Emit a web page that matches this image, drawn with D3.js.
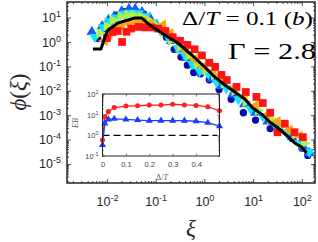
<!DOCTYPE html>
<html><head><meta charset="utf-8">
<script src="https://cdn.jsdelivr.net/npm/d3@7"></script>
<style>body{margin:0;background:#fff}svg{display:block}</style>
</head><body>
<svg id="c" width="318" height="242"></svg>
<script>
// ---------- data ----------
const xTickValues = [0.01, 0.1, 1, 10, 100];
const yTickValues = [1e-5, 1e-4, 1e-3, 1e-2, 1e-1, 1, 10];
const insetYTicks = [0.1, 1, 10, 100];
const insetXTicks = [0, 0.1, 0.2, 0.3, 0.4];

const seriesCircles = [[0.00646,1.41],[0.00891,3.55],[0.0117,7.08],[0.0158,12.6],[0.0214,17.8],[0.0295,19.1],[0.0398,17.8],[0.0562,14.1],[0.0794,7.08],[0.112,3.55],[0.166,1.58],[0.240,0.501],[0.331,0.240],[0.447,0.112],[0.603,0.0562],[0.832,0.0501],[1.26,0.0282],[2.0,0.0112],[3.55,0.00447],[6.31,0.00126],[11.2,6.31e-4],[22.4,2.82e-4],[35.5,3.55e-4],[63.1,1.12e-4],[100,4.47e-5],[132,2.24e-5]];
const seriesUp = [[0.00490,2.57],[0.00794,4.47],[0.0107,7.94],[0.0141,11.2],[0.0200,17.8],[0.0282,22.4],[0.0380,22.4],[0.0525,16.6],[0.0759,10],[0.105,5.01],[0.151,2.51],[0.209,1.12],[0.302,0.501],[0.417,0.224],[0.603,0.112],[0.891,0.0631],[1.41,0.0316],[2.24,0.0158],[3.80,0.00708],[6.61,0.00282],[11.2,0.00126],[20.0,5.62e-4],[35.5,2.51e-4],[63.1,1.26e-4],[112,4.47e-5],[141,2.82e-5]];
const seriesDown = [[0.00562,1.58],[0.00832,3.98],[0.0112,7.08],[0.0151,10],[0.0224,14.1],[0.0316,15.8],[0.0447,15.1],[0.0631,11.2],[0.0891,6.31],[0.126,3.16],[0.191,1.26],[0.282,0.562],[0.398,0.282],[0.562,0.126],[0.794,0.0631],[1.20,0.0501],[1.78,0.0224],[2.82,0.0126],[5.01,0.00447],[8.91,0.00178],[15.8,8.91e-4],[28.2,3.98e-4],[50.1,1.78e-4],[89.1,7.08e-5],[141,3.16e-5]];
const seriesRight = [[0.00708,2.24],[0.01,4.47],[0.0132,7.94],[0.0191,11.2],[0.0263,13.2],[0.0355,12.6],[0.0501,11.2],[0.0708,7.94],[0.1,5.01],[0.141,2.51],[0.209,1.26],[0.316,0.631],[0.479,0.282],[0.708,0.126],[1.05,0.0708],[1.58,0.0447],[2.51,0.02],[4.17,0.01],[7.08,0.00355],[12.6,0.00158],[22.4,7.08e-4],[39.8,3.98e-4],[70.8,1.58e-4],[112,7.08e-5]];
const seriesLeft = [[0.00891,1.12],[0.0112,2.0],[0.0141,3.55],[0.02,4.47],[0.0282,5.62],[0.0398,6.31],[0.0562,7.08],[0.0794,5.62],[0.141,5.01],[0.2,2.24],[0.282,1.0],[0.417,0.447],[0.631,0.2],[0.955,0.1],[1.51,0.0562],[2.40,0.0251],[3.98,0.0126],[6.61,0.00562],[11.2,0.00251],[19.1,0.001],[31.6,5.62e-4],[56.2,2.51e-4],[89.1,1.41e-4]];
const seriesSquares = [[0.01,1.45],[0.0132,2.57],[0.0166,2.82],[0.0204,1.0],[0.0251,2.63],[0.0316,3.55],[0.0447,4.17],[0.0603,3.98],[0.0832,3.98],[0.112,3.55],[0.158,2.82],[0.224,1.58],[0.316,1.12],[0.447,0.759],[0.631,0.501],[0.891,0.282],[1.26,0.141],[1.66,0.0955],[2.24,0.0447],[2.88,0.0275],[4.57,0.0145],[7.08,0.00891],[11.7,0.00562],[15.8,0.00316],[22.4,0.00126],[31.6,2.0e-4],[44.7,4.47e-4],[70.8,2.0e-4],[105,1.26e-4]];
const collapseLine = [[0.00516,0.516],[0.00753,0.516],[0.0091,1.60],[0.0105,3.10],[0.0168,6.0],[0.0374,9.6],[0.052,9.6],[0.076,4.97],[0.154,1.94],[0.285,0.91],[0.552,0.293],[1.02,0.0944],[1.63,0.0368],[2.62,0.0173],[4.2,0.00893],[6.73,0.00461],[9.8,0.00197],[15.7,0.00102],[21.9,5.26e-4],[30.4,3.28e-4],[40.4,2.05e-4],[56.2,1.16e-4],[71.1,7.26e-5],[99,4.98e-5],[125,2.82e-5]];

const insetDelta = [0, 0.01, 0.025, 0.05, 0.1, 0.15, 0.2, 0.25, 0.3, 0.35, 0.4, 0.45, 0.5];
const insetRed  = [0.6, 8, 14, 22, 26, 27, 29, 29, 32, 29.5, 28, 24, 15.5];
const insetBlue = [0.34, 3.8, 5.9, 6.3, 5.9, 5.5, 5.1, 5.1, 5.1, 5.1, 4.8, 4.1, 2.8];
const insetRef = 1;

// ---------- layout ----------
const svg = d3.select('#c');
const L = 67, R = 315, T = 2, B = 183;
const axisColor = '#262626';
const sans = 'Liberation Sans, Arial, sans-serif';
const serif = 'Liberation Serif, Times New Roman, serif';
const x = d3.scaleLog().domain([Math.pow(10,-2.82), Math.pow(10,2.27)]).range([L, R]);
const y = d3.scaleLog().domain([Math.pow(10,-5.78), Math.pow(10,1.64)]).range([B, T]);

function minorTicks(scale){
  const [a,b] = scale.domain(); const out = [];
  for (let e = Math.floor(Math.log10(a)); e <= Math.ceil(Math.log10(b)); e++)
    for (let m = 2; m < 10; m++){ const v = m*Math.pow(10,e); if (v > a && v < b) out.push(v); }
  return out;
}
function supLabels(sel, fsSup, rise){
  sel.each(function(d){
    const t = d3.select(this); const e = Math.round(Math.log10(d));
    t.text(null);
    t.append('tspan').text('10');
    t.append('tspan').attr('font-size', fsSup).attr('dy', -rise).text(String(e));
  });
}
function styleTicks(g, color, w){ g.selectAll('.domain').remove(); g.selectAll('line').attr('stroke', color).attr('stroke-width', w); }

svg.append('rect').attr('width',318).attr('height',242).attr('fill','#fff');

// scatter
const sym = (type, size) => d3.symbol().type(type).size(size)();
const groups = [
  {data: seriesCircles, path: sym(d3.symbolCircle, 42), rot: 0, fill: '#0a0aa8'},
  {data: seriesUp, path: sym(d3.symbolTriangle, 50), rot: 0, fill: '#1060ff'},
  {data: seriesDown, path: sym(d3.symbolTriangle, 50), rot: 180, fill: '#10e4ff'},
  {data: seriesRight, path: sym(d3.symbolTriangle, 50), rot: 90, fill: '#aaf250'},
  {data: seriesLeft, path: sym(d3.symbolTriangle, 50), rot: -90, fill: '#ffa40a'},
  {data: seriesSquares, path: sym(d3.symbolSquare, 60), rot: 0, fill: '#ff1414'}
];
const sg = svg.append('g');
groups.forEach(g => {
  sg.append('g').selectAll('path').data(g.data).join('path')
    .attr('d', g.path).attr('fill', g.fill)
    .attr('transform', d => `translate(${x(d[0])},${y(d[1])}) rotate(${g.rot})`);
});

// collapse line
svg.append('path').datum(collapseLine)
  .attr('d', d3.line().x(d => x(d[0])).y(d => y(d[1])))
  .attr('fill','none').attr('stroke','#000').attr('stroke-width',3).attr('stroke-linejoin','round');

// main axes
function axisSet(){
  const fs = 12.5;
  const gb = svg.append('g').attr('transform',`translate(0,${B})`);
  gb.call(d3.axisBottom(x).tickValues(xTickValues).tickSize(-4).tickPadding(14));
  gb.selectAll('.tick text').attr('font-family',sans).attr('font-size',fs).attr('fill',axisColor).call(supLabels, 9, 5);
  const gbm = svg.append('g').attr('transform',`translate(0,${B})`)
    .call(d3.axisBottom(x).tickValues(minorTicks(x)).tickSize(-2).tickFormat(''));
  const gt = svg.append('g').attr('transform',`translate(0,${T})`)
    .call(d3.axisTop(x).tickValues(xTickValues).tickSize(-4).tickFormat(''));
  const gtm = svg.append('g').attr('transform',`translate(0,${T})`)
    .call(d3.axisTop(x).tickValues(minorTicks(x)).tickSize(-2).tickFormat(''));
  const gl = svg.append('g').attr('transform',`translate(${L},0)`);
  gl.call(d3.axisLeft(y).tickValues(yTickValues).tickSize(-4).tickPadding(6));
  gl.selectAll('.tick text').attr('font-family',sans).attr('font-size',fs).attr('fill',axisColor).call(supLabels, 9, 5);
  const glm = svg.append('g').attr('transform',`translate(${L},0)`)
    .call(d3.axisLeft(y).tickValues(minorTicks(y)).tickSize(-2).tickFormat(''));
  const gr = svg.append('g').attr('transform',`translate(${R},0)`)
    .call(d3.axisRight(y).tickValues(yTickValues).tickSize(-4).tickFormat(''));
  const grm = svg.append('g').attr('transform',`translate(${R},0)`)
    .call(d3.axisRight(y).tickValues(minorTicks(y)).tickSize(-2).tickFormat(''));
  [gb,gbm,gt,gtm,gl,glm,gr,grm].forEach(g => styleTicks(g, axisColor, 0.8));
  svg.append('rect').attr('x',L).attr('y',T).attr('width',R-L).attr('height',B-T)
    .attr('fill','none').attr('stroke',axisColor).attr('stroke-width',1.5);
}

// inset
function inset(){
  const iL = 102.5, iR = 219.5, iT = 94, iB = 156;
  const ix = d3.scaleLinear().domain([0,0.5]).range([iL,iR]);
  const iy = d3.scaleLog().domain([0.1,100]).range([iB,iT]);
  const gi = svg.append('g');
  gi.append('rect').attr('x',iL).attr('y',iT).attr('width',iR-iL).attr('height',iB-iT).attr('fill','#fff');
  const gb = gi.append('g').attr('transform',`translate(0,${iB})`)
    .call(d3.axisBottom(ix).tickValues(insetXTicks).tickSize(-2.5).tickPadding(6).tickFormat(d => d===0 ? '0' : d3.format('.1f')(d)));
  gb.selectAll('.tick text').attr('font-family',sans).attr('font-size',7.5).attr('fill','#444');
  const gt = gi.append('g').attr('transform',`translate(0,${iT})`)
    .call(d3.axisTop(ix).tickValues(insetXTicks).tickSize(-2.5).tickFormat(''));
  const gl = gi.append('g').attr('transform',`translate(${iL},0)`)
    .call(d3.axisLeft(iy).tickValues(insetYTicks).tickSize(-2.5).tickPadding(4));
  gl.selectAll('.tick text').attr('font-family',sans).attr('font-size',7.5).attr('fill','#444').call(supLabels, 5.5, 3);
  const glm = gi.append('g').attr('transform',`translate(${iL},0)`)
    .call(d3.axisLeft(iy).tickValues(minorTicks(iy)).tickSize(-1.3).tickFormat(''));
  const gr = gi.append('g').attr('transform',`translate(${iR},0)`)
    .call(d3.axisRight(iy).tickValues(insetYTicks).tickSize(-2.5).tickFormat(''));
  const grm = gi.append('g').attr('transform',`translate(${iR},0)`)
    .call(d3.axisRight(iy).tickValues(minorTicks(iy)).tickSize(-1.3).tickFormat(''));
  [gb,gt,gl,glm,gr,grm].forEach(g => styleTicks(g, '#333', 0.6));
  gi.append('line').attr('x1',ix(0)).attr('x2',ix(0.49)).attr('y1',iy(insetRef)).attr('y2',iy(insetRef))
    .attr('stroke','#000').attr('stroke-width',1.3).attr('stroke-dasharray','7,4');
  const line = vals => d3.line().x((d,i) => ix(insetDelta[i])).y(d => iy(d))(vals);
  gi.append('path').attr('d', line(insetRed)).attr('fill','none').attr('stroke','#ff2020').attr('stroke-width',1.3);
  gi.append('path').attr('d', line(insetBlue)).attr('fill','none').attr('stroke','#1a3cff').attr('stroke-width',1.3);
  gi.append('g').selectAll('path').data(insetRed).join('path')
    .attr('d', d3.symbol().type(d3.symbolCircle).size(20)()).attr('fill','#ff2020')
    .attr('transform',(d,i) => `translate(${ix(insetDelta[i])},${iy(d)})`);
  gi.append('g').selectAll('path').data(insetBlue).join('path')
    .attr('d', d3.symbol().type(d3.symbolTriangle).size(22)()).attr('fill','#1a3cff')
    .attr('transform',(d,i) => `translate(${ix(insetDelta[i])},${iy(d)})`);
  gi.append('rect').attr('x',iL).attr('y',iT).attr('width',iR-iL).attr('height',iB-iT)
    .attr('fill','none').attr('stroke','#222').attr('stroke-width',1);
  gi.append('text').attr('transform','translate(78,123) rotate(-90)').attr('text-anchor','middle')
    .attr('font-family',serif).attr('font-style','italic').attr('font-size',8).attr('fill','#555').text('EB');
  const dl = gi.append('text').attr('x',162).attr('y',180).attr('text-anchor','middle')
    .attr('font-family',serif).attr('font-size',8).attr('fill','#555');
  dl.append('tspan').text('Δ/');
  dl.append('tspan').attr('font-style','italic').text('T');
}

inset();
axisSet();

// annotations
const a1 = svg.append('text').attr('x',182).attr('y',25).attr('font-family',serif).attr('font-size',18)
  .attr('textLength',131).attr('lengthAdjust','spacingAndGlyphs');
a1.append('tspan').text('Δ/');
a1.append('tspan').attr('font-style','italic').text('T');
a1.append('tspan').text(' = 0.1 (');
a1.append('tspan').attr('font-style','italic').text('b');
a1.append('tspan').text(')');
svg.append('text').attr('x',228).attr('y',59).attr('font-family',serif).attr('font-size',24)
  .attr('textLength',88).attr('lengthAdjust','spacingAndGlyphs').text('Γ = 2.8');

// axis titles
const yl = svg.append('text').attr('transform','translate(26,92) rotate(-90)').attr('text-anchor','middle')
  .attr('font-family',serif).attr('font-size',23).attr('fill','#262626');
yl.append('tspan').attr('font-style','italic').text('ϕ');
yl.append('tspan').text('(');
yl.append('tspan').attr('font-style','italic').text('ξ');
yl.append('tspan').text(')');
svg.append('text').attr('x',191).attr('y',236).attr('text-anchor','middle')
  .attr('font-family',serif).attr('font-style','italic').attr('font-size',23).attr('fill','#262626').text('ξ');
</script>
</body></html>
